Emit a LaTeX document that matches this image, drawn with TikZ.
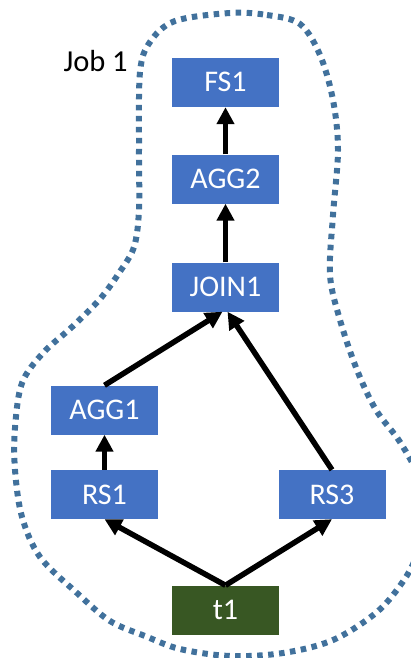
\documentclass[tikz,border=0pt]{standalone}
\usepackage{fontspec}
\setmainfont{Carlito}
\usetikzlibrary{arrows.meta}
\definecolor{boxblue}{HTML}{4472C4}
\definecolor{boxgreen}{HTML}{385723}
\definecolor{hullblue}{HTML}{41719C}
\tikzset{
  opbox/.style={fill=boxblue, text=white, minimum width=107pt, minimum height=49pt,
    inner sep=0pt, font=\fontsize{30}{32}\selectfont, text height=19pt, text depth=0pt},
  srcbox/.style={opbox, fill=boxgreen},
  flow/.style={line width=5.5pt, -{Triangle[width=17pt,length=17pt]}},
  hull/.style={draw=hullblue, line width=6pt, dash pattern=on 5.5pt off 5.5pt}
}
\begin{document}
\begin{tikzpicture}[x=1pt,y=-1pt]
\useasboundingbox (0,0) rectangle (411,658);
\clip (0,0) rectangle (411,658);
% job boundary
\draw[hull] plot[smooth cycle, tension=0.55] coordinates {
  (230,13) (267,15) (300,24) (320,55) (333,100) (338,150) (333,215) (330,275)
  (340,320) (357,370) (376,410) (400,442) (420,480) (425,520) (418,552) (404,580)
  (377,612) (333,640) (283,653) (230,656) (180,649) (145,636) (110,621) (77,593)
  (40,557) (22,517) (15,470) (15,428) (22,383) (43,353) (72,327) (100,299)
  (119,273) (134,247) (139,210) (139,150) (140,72) (150,42) (175,21)};
\node[anchor=base west, font=\fontsize{30.5}{32}\selectfont] (job) at (60,72) {Job 1};
% operators
\node[opbox] (FS1) at (225.5,82.5) {FS1};
\node[opbox] (AGG2) at (225.5,179) {AGG2};
\node[opbox] (JOIN1) at (225.5,287) {JOIN1};
\node[opbox] (AGG1) at (104.5,410) {AGG1};
\node[opbox] (RS1) at (104.5,494.5) {RS1};
\node[opbox] (RS3) at (332,494.5) {RS3};
\node[srcbox] (t1) at (225.5,610) {t1};
% data flow
\draw[flow] (AGG2) -- (FS1);
\draw[flow] (JOIN1) -- (AGG2);
\draw[flow] (AGG1.north) -- ([xshift=-3pt]JOIN1.south);
\draw[flow] (RS3.north) -- ([xshift=2pt]JOIN1.south);
\draw[flow] (RS1) -- (AGG1);
\draw[flow] (t1.north) -- (RS1.south);
\draw[flow] (t1.north) -- (RS3.south);
\end{tikzpicture}
\end{document}
